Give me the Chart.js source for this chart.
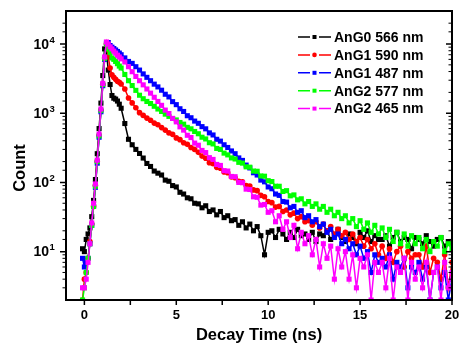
<!DOCTYPE html>
<html>
<head>
<meta charset="utf-8">
<script src="https://cdn.jsdelivr.net/npm/chart.js@4.4.1/dist/chart.umd.min.js"></script>
<style>
  body { margin: 0; background: #fff; }
  canvas { display: block; }
</style>
</head>
<body>
<canvas id="decayChart" width="461" height="354"></canvas>
<script>
// Decay time (ns) shared by all curves
const timeNs = [
  -0.1, 0, 0.1, 0.2, 0.3, 0.4, 0.5, 0.6, 0.7, 0.8, 0.9, 1.0, 1.1, 1.2, 1.3, 1.4, 1.5, 1.6, 1.7, 1.8, 1.9, 2.0,
  2.2, 2.4, 2.6, 2.8, 3.0, 3.2, 3.4, 3.6, 3.8, 4.0,
  4.2, 4.4, 4.6, 4.8, 5.0, 5.2, 5.4, 5.6, 5.8, 6.0,
  6.2, 6.4, 6.6, 6.8, 7.0, 7.2, 7.4, 7.6, 7.8, 8.0,
  8.2, 8.4, 8.6, 8.8, 9.0, 9.2, 9.4, 9.6, 9.8, 10.0,
  10.2, 10.4, 10.6, 10.8, 11.0, 11.2, 11.4, 11.6, 11.8, 12.0,
  12.2, 12.4, 12.6, 12.8, 13.0, 13.2, 13.4, 13.6, 13.8, 14.0,
  14.2, 14.4, 14.6, 14.8, 15.0, 15.2, 15.4, 15.6, 15.8, 16.0,
  16.2, 16.4, 16.6, 16.8, 17.0, 17.2, 17.4, 17.6, 17.8, 18.0,
  18.2, 18.4, 18.6, 18.8, 19.0, 19.2, 19.4, 19.6, 19.8, 20.0
];

// Counts
const ang0_566 = [
  11, 10, 15, 18, 22, 32, 55, 110, 260, 600, 1400, 3500, 8500, 7600, 4200, 2600, 1800, 1650, 1600, 1500, 1350, 1180,
  710, 420, 350, 300, 262, 225, 188, 170, 146, 136,
  128, 108, 104, 90, 86, 72, 68, 60, 58, 50,
  49, 43, 46, 38, 40, 34, 38, 31, 33, 28,
  29, 24, 27, 22, 25, 20, 23, 17, 9, 19,
  20, 16, 21, 18, 15, 19, 16, 21, 17, 18,
  15, 19, 14, 18, 17, 20, 15, 17, 21, 16,
  14, 18, 16, 13, 19, 16, 20, 14, 17, 15,
  15, 17, 12, 16, 19, 14, 16, 15, 11, 16,
  15, 13, 17, 14, 12, 15, 16, 12, 14, 13
];
const ang1_590 = [
  2, 4, 5, 8, 14, 25, 45, 90, 200, 480, 1100, 2600, 6300, 10000, 6500, 4500, 3600, 3300, 3100, 2900, 2800, 2650,
  2240, 1660, 1410, 1200, 1020, 930, 850, 790, 720, 680,
  620, 570, 520, 495, 440, 415, 375, 355, 320, 300,
  272, 240, 224, 192, 186, 165, 160, 142, 138, 120,
  117, 104, 102, 90, 89, 78, 76, 65, 62, 53,
  51, 44, 45, 38, 40, 34, 36, 30, 32, 27,
  28, 24, 27, 22, 25, 20, 23, 18, 21, 17,
  19, 15, 18, 14, 16, 12, 15, 11, 13, 9,
  12, 8, 11, 7, 10, 12, 6, 10, 8, 9,
  9, 6, 12, 5, 8, 7, 4, 9, 3, 7
];
const ang1_487 = [
  8, 6, 7, 8, 13, 24, 45, 85, 190, 450, 1050, 2500, 6000, 10300, 10500, 9500, 9000, 8600, 8200, 7800, 7400, 7000,
  6300, 5600, 5250, 4700, 4200, 3700, 3300, 2950, 2630, 2400,
  2150, 1880, 1720, 1470, 1330, 1160, 1060, 920, 860, 770,
  715, 640, 595, 520, 485, 420, 395, 350, 320, 285,
  260, 226, 208, 178, 162, 138, 128, 108, 102, 86,
  81, 68, 65, 53, 52, 43, 45, 37, 39, 31,
  33, 27, 29, 23, 25, 19, 21, 16, 18, 13,
  15, 11, 13, 9, 12, 8, 10, 5, 9, 7,
  8, 6, 9, 4, 7, 6, 8, 3, 6, 5,
  7, 4, 6, 2, 5, 6, 3, 5, 2, 4
];
const ang2_577 = [
  2, 3, 5, 8, 13, 24, 45, 88, 200, 470, 1100, 2600, 6200, 10000, 8500, 7500, 6300, 6000, 5600, 5200, 4800, 4500,
  3630, 2950, 2510, 2140, 1820, 1620, 1480, 1380, 1260, 1150,
  1060, 970, 900, 840, 800, 735, 695, 625, 595, 545,
  505, 450, 425, 375, 360, 310, 300, 265, 250, 226,
  218, 195, 190, 168, 166, 146, 145, 124, 123, 106,
  103, 88, 88, 74, 76, 64, 66, 56, 58, 49,
  53, 45, 49, 41, 45, 37, 41, 33, 37, 30,
  33, 26, 30, 23, 28, 21, 26, 19, 24, 18,
  22, 16, 21, 14, 19, 13, 18, 12, 17, 13,
  16, 11, 15, 10, 14, 12, 16, 10, 13, 11
];
const ang2_465 = [
  3, 3, 4, 7, 13, 26, 50, 95, 210, 500, 1150, 2700, 6500, 10700, 10000, 9100, 8500, 7900, 7400, 6900, 6500, 6100,
  5500, 4700, 3980, 3400, 2950, 2570, 2240, 1950, 1700, 1480,
  1300, 1110, 990, 840, 750, 635, 570, 480, 445, 370,
  345, 290, 270, 228, 215, 182, 176, 148, 146, 122,
  121, 100, 99, 80, 79, 62, 61, 47, 48, 37,
  39, 27, 33, 21, 27, 16, 24, 11, 19, 13,
  17, 9, 15, 6, 13, 8, 12, 4, 11, 6,
  10, 4, 9, 3, 8, 6, 9, 2, 7, 5,
  7, 3, 8, 2, 6, 5, 8, 2, 7, 4,
  6, 3, 7, 2, 5, 6, 2, 7, 3, 5
];

const seriesNames = ['AnG0 566 nm', 'AnG1 590 nm', 'AnG1 487 nm', 'AnG2 577 nm', 'AnG2 465 nm'];
const seriesData = [ang0_566, ang1_590, ang1_487, ang2_577, ang2_465];
const seriesColors = ['#000000', '#ff0000', '#0000ff', '#00ff00', '#ff00ff'];
const seriesMarkers = ['rect', 'circle', 'rect', 'rect', 'rect'];

const xTicks = [0, 2.5, 5, 7.5, 10, 12.5, 15, 17.5, 20];
const yDecades = [10, 100, 1000, 10000];

const FONT = 'Arial, "Liberation Sans", Helvetica, sans-serif';

// Frame, tick marks, 10^n labels, axis titles and the legend
const decor = {
    id: 'decor',
    afterDraw(chart) {
        const { ctx, chartArea: area, scales: { x, y } } = chart;
        ctx.save();
        ctx.strokeStyle = '#000';
        ctx.fillStyle = '#000';

        // frame
        ctx.lineWidth = 2;
        ctx.strokeRect(area.left, area.top, area.right - area.left, area.bottom - area.top);

        // x ticks, out of the bottom axis
        ctx.lineWidth = 1.5;
        x.ticks.forEach(t => {
            const px = x.getPixelForValue(t.value);
            ctx.beginPath();
            ctx.moveTo(px, area.bottom);
            ctx.lineTo(px, area.bottom + 5);
            ctx.stroke();
        });

        // y ticks: outward on the left, inward on the right
        y.ticks.forEach(t => {
            const py = y.getPixelForValue(t.value);
            if (py < area.top + 1 || py > area.bottom - 1) return;
            const len = yDecades.includes(t.value) ? 6 : 3.5;
            ctx.lineWidth = yDecades.includes(t.value) ? 1.5 : 1;
            ctx.beginPath();
            ctx.moveTo(area.left - len, py);
            ctx.lineTo(area.left, py);
            ctx.moveTo(area.right, py);
            ctx.lineTo(area.right - len, py);
            ctx.stroke();
        });

        // y labels as 10 with a superscript power
        ctx.textBaseline = 'middle';
        yDecades.forEach(v => {
            const py = y.getPixelForValue(v);
            ctx.font = 'bold 14px ' + FONT;
            ctx.textAlign = 'right';
            ctx.fillText('10', area.left - 17, py + 1);
            ctx.font = 'bold 9.5px ' + FONT;
            ctx.textAlign = 'left';
            ctx.fillText(String(Math.round(Math.log10(v))), area.left - 16.5, py - 4);
        });

        // axis titles
        ctx.font = 'bold 16.5px ' + FONT;
        ctx.textAlign = 'center';
        ctx.fillText('Decay Time (ns)', (area.left + area.right) / 2, 335);
        ctx.save();
        ctx.translate(20, 168);
        ctx.rotate(-Math.PI / 2);
        ctx.fillText('Count', 0, 0);
        ctx.restore();

        // legend
        ctx.font = 'bold 14px ' + FONT;
        ctx.textAlign = 'left';
        seriesNames.forEach((name, i) => {
            const ly = 37 + i * 17.9;
            ctx.strokeStyle = seriesColors[i];
            ctx.fillStyle = seriesColors[i];
            ctx.lineWidth = 1.5;
            ctx.beginPath();
            ctx.moveTo(298, ly);
            ctx.lineTo(310, ly);
            ctx.moveTo(319, ly);
            ctx.lineTo(331, ly);
            ctx.stroke();
            if (seriesMarkers[i] === 'circle') {
                ctx.beginPath();
                ctx.arc(314.5, ly, 2.3, 0, Math.PI * 2);
                ctx.fill();
            } else {
                ctx.fillRect(312.5, ly - 2, 4, 4);
            }
            ctx.fillStyle = '#000';
            ctx.fillText(name, 334, ly + 1);
        });
        ctx.restore();
    }
};

const datasets = seriesNames.map((name, i) => ({
    label: name,
    data: timeNs.map((t, j) => ({ x: t, y: seriesData[i][j] })),
    borderColor: seriesColors[i],
    backgroundColor: seriesColors[i],
    borderWidth: 1.5,
    pointStyle: seriesMarkers[i],
    pointRadius: seriesMarkers[i] === 'circle' ? 2.8 : 3.6,
    pointBorderWidth: 0,
    tension: 0,
    order: seriesNames.length - i   // later series drawn on top
}));

new Chart(document.getElementById('decayChart'), {
    type: 'line',
    data: { datasets },
    options: {
        responsive: false,
        animation: false,
        devicePixelRatio: 1,
        layout: { padding: { top: 11, right: 9, left: 0, bottom: 0 } },
        plugins: {
            legend: { display: false },
            tooltip: { enabled: false }
        },
        scales: {
            x: {
                type: 'linear',
                min: -1,
                max: 20,
                afterBuildTicks: s => { s.ticks = xTicks.map(v => ({ value: v })); },
                afterFit: s => { s.height = 54; },
                // transparent tick marks only push the labels down; the real ticks are drawn by the plugin
                grid: { display: true, drawOnChartArea: false, drawTicks: true, tickLength: 8, tickColor: 'rgba(0,0,0,0)' },
                border: { display: false },
                ticks: {
                    padding: 0,
                    color: '#000',
                    font: { family: FONT, size: 13, weight: 'bold' },
                    maxRotation: 0,
                    autoSkip: false,
                    callback: v => (v % 5 === 0 ? String(v) : '')
                }
            },
            y: {
                type: 'logarithmic',
                min: 2,
                max: 30000,
                afterFit: s => { s.width = 66; },
                grid: { display: true, drawOnChartArea: false, drawTicks: false },
                border: { display: false },
                ticks: { display: false }
            }
        }
    },
    plugins: [decor]
});
</script>
</body>
</html>
